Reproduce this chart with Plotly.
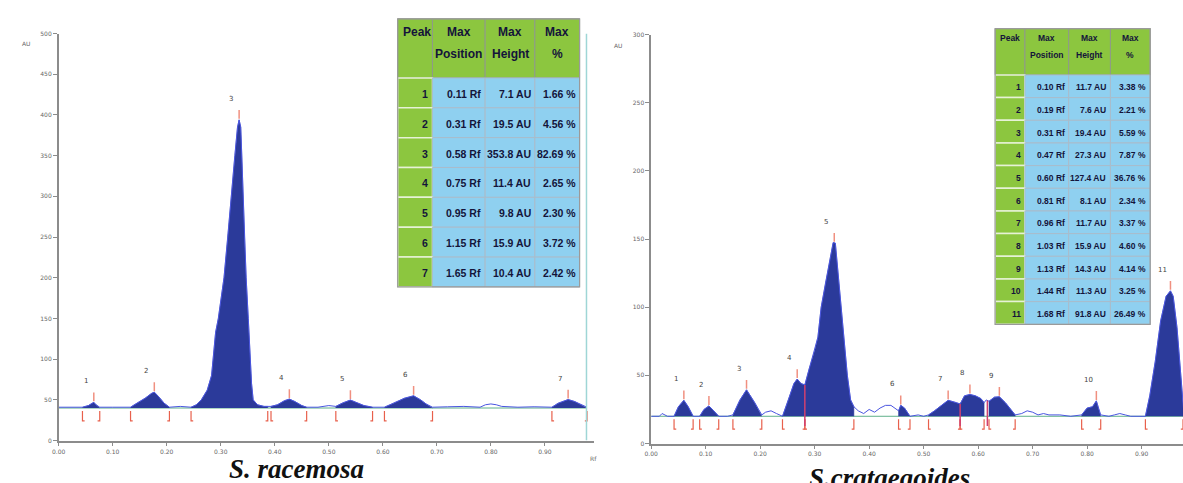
import numpy as np
import plotly.graph_objects as go

# ---------------- data: S. racemosa ----------------
L_x = [0.00, 0.02, 0.044, 0.055, 0.062, 0.065, 0.069, 0.076, 0.10, 0.12, 0.133, 0.145, 0.16, 0.172,
       0.177, 0.185, 0.195, 0.205, 0.225, 0.245, 0.255, 0.264, 0.275, 0.283, 0.2905, 0.2955, 0.306,
       0.313, 0.319, 0.326, 0.331, 0.334, 0.337, 0.339, 0.341, 0.344, 0.347, 0.351, 0.354, 0.357,
       0.360, 0.368, 0.38, 0.387, 0.393,
       0.405, 0.418, 0.427, 0.437, 0.45, 0.459, 0.48, 0.50, 0.513, 0.525, 0.54, 0.55, 0.565, 0.581,
       0.603, 0.62, 0.64, 0.657, 0.67, 0.68, 0.692, 0.72, 0.75, 0.78, 0.79, 0.80, 0.81, 0.82, 0.85,
       0.88, 0.913, 0.925, 0.943, 0.955, 0.968, 0.978]
L_y = [41, 41, 41, 43, 46, 47, 44, 41, 41, 41.5, 41, 46, 52, 58,
       59.5, 54, 46, 41, 42, 41, 44, 50, 62, 80, 133, 150, 200,
       250, 300, 350, 385, 394, 385, 350, 300, 250, 200, 150, 100, 70,
       50, 44, 42, 42, 42,
       44, 49, 51, 48, 43, 41, 41, 43, 42, 46, 49.8, 47, 43, 41,
       41, 46, 52, 55, 50, 45, 41, 41.5, 42, 41, 44, 45, 44, 42, 41,
       41.5, 41, 46, 50.4, 48, 44, 41]
L_base = 40
L_start = [0.044, 0.133, 0.245, 0.393, 0.513, 0.603, 0.913]
L_end = [0.076, 0.205, 0.387, 0.459, 0.581, 0.692, 0.978]
L_peak_x = [0.065, 0.177, 0.334, 0.427, 0.540, 0.657, 0.943]
L_peak = [1, 2, 3, 4, 5, 6, 7]
L_pos = [0.11, 0.31, 0.58, 0.75, 0.95, 1.15, 1.65]
L_hgt = [7.1, 19.5, 353.8, 11.4, 9.8, 15.9, 10.4]
L_pct = [1.66, 4.56, 82.69, 2.65, 2.30, 3.72, 2.42]

# ---------------- data: S. crataegoides ----------------
R_x = [0.00, 0.015, 0.02, 0.025, 0.03, 0.042, 0.05, 0.06, 0.068, 0.077, 0.083, 0.089, 0.097, 0.106,
       0.115, 0.124, 0.14, 0.15, 0.163, 0.175, 0.19, 0.203, 0.21, 0.22, 0.23, 0.241, 0.25, 0.262,
       0.268, 0.275, 0.282, 0.29, 0.30, 0.306, 0.312, 0.32, 0.328, 0.334, 0.338, 0.343, 0.349,
       0.355, 0.360, 0.366, 0.372,
       0.38, 0.39, 0.40, 0.41, 0.42, 0.43, 0.44, 0.45, 0.454, 0.458, 0.465, 0.475, 0.49, 0.50,
       0.509, 0.52, 0.535, 0.545, 0.56, 0.567, 0.575, 0.585, 0.595, 0.605, 0.611, 0.615, 0.620,
       0.63, 0.639, 0.65, 0.66, 0.668, 0.68, 0.69, 0.70, 0.71, 0.72, 0.73, 0.75, 0.77, 0.79, 0.80,
       0.81, 0.817, 0.825, 0.84, 0.85, 0.86, 0.87, 0.88, 0.907, 0.915, 0.925, 0.935, 0.945, 0.953,
       0.958, 0.965, 0.972, 0.978]
R_y = [20, 20, 22, 21, 20, 20, 27, 31.7, 27, 20, 20, 20, 25, 27.6,
       24, 20, 20, 21, 32, 39.4, 30, 21, 23, 24, 22, 20, 30, 44,
       47.3, 44, 43, 55, 68, 78, 100, 118, 135, 147.4, 147, 125, 100,
       70, 50, 32, 27,
       24, 22, 25, 23, 26, 28, 28, 25, 24, 28, 26, 20, 21, 20,
       21, 24, 29, 31.7, 30, 29, 35, 36, 35, 33, 30, 32, 31,
       34, 34.3, 30, 25, 21, 22, 24, 23, 21, 22, 21, 21, 20, 21, 26,
       27, 31.3, 21, 20, 21, 22, 21, 20, 20, 35, 60, 90, 108, 112,
       108, 85, 50, 20]
R_base = 20
R_start = [0.042, 0.089, 0.150, 0.241, 0.282, 0.454, 0.509, 0.567, 0.620, 0.790, 0.907]
R_end = [0.077, 0.124, 0.203, 0.282, 0.372, 0.475, 0.567, 0.611, 0.668, 0.825, 0.976]
R_peak_x = [0.060, 0.106, 0.175, 0.268, 0.336, 0.458, 0.545, 0.585, 0.639, 0.817, 0.953]
R_peak = [1, 2, 3, 4, 5, 6, 7, 8, 9, 10, 11]
R_pos = [0.10, 0.19, 0.31, 0.47, 0.60, 0.81, 0.96, 1.03, 1.13, 1.44, 1.68]
R_hgt = [11.7, 7.6, 19.4, 27.3, 127.4, 8.1, 11.7, 15.9, 14.3, 11.3, 91.8]
R_pct = [3.38, 2.21, 5.59, 7.87, 36.76, 2.34, 3.37, 4.60, 4.14, 3.25, 26.49]

x_ticks = [0.0, 0.1, 0.2, 0.3, 0.4, 0.5, 0.6, 0.7, 0.8, 0.9]
L_yticks = [0, 50, 100, 150, 200, 250, 300, 350, 400, 450, 500]
R_yticks = [0, 50, 100, 150, 200, 250, 300]

W, H = 1183, 483
FILL = "#2B3A9A"
LINE = "#4a55e0"
RED = "#e8604c"
PINK = "#f09080"
GREEN_T = "#8CC63F"
BLUE_T = "#8FD0F0"
TXT = "#14143a"
TFONT = "Liberation Sans, Arial, sans-serif"

fig = go.Figure()


def px_x(v):
    return v / W


def px_y(v):
    return 1 - v / H


def panel(xs, ys, base, starts, ends, pk_x, pk_n, xa, ya, upx, valley):
    xs = np.array(xs, float)
    ys = np.array(ys, float)
    fig.add_trace(go.Scatter(x=[0, xs.max()], y=[base, base], mode="lines",
                             line=dict(color="#5fb08a", width=1), xaxis=xa, yaxis=ya,
                             hoverinfo="skip", showlegend=False))
    for a, b in zip(starts, ends):
        m = (xs > a) & (xs < b)
        px = np.concatenate([[a], xs[m], [b]])
        py = np.concatenate([[np.interp(a, xs, ys)], ys[m], [np.interp(b, xs, ys)]])
        poly_x = np.concatenate([[a], px, [b]])
        poly_y = np.concatenate([[base], py, [base]])
        fig.add_trace(go.Scatter(x=poly_x, y=poly_y, mode="lines", fill="toself",
                                 fillcolor=FILL, line=dict(color=FILL, width=0.5),
                                 xaxis=xa, yaxis=ya, hoverinfo="skip", showlegend=False))
    fig.add_trace(go.Scatter(x=xs, y=ys, mode="lines", line=dict(color=LINE, width=1),
                             xaxis=xa, yaxis=ya, hoverinfo="skip", showlegend=False))
    bx, by = [], []
    for a in starts:
        bx += [a, a, a + 0.004, None]
        by += [base - 3 * upx, base - 13 * upx, base - 13 * upx, None]
    for b in ends:
        bx += [b, b, b - 0.004, None]
        by += [base - 3 * upx, base - 13 * upx, base - 13 * upx, None]
    fig.add_trace(go.Scatter(x=bx, y=by, mode="lines", line=dict(color=RED, width=1.2),
                             xaxis=xa, yaxis=ya, hoverinfo="skip", showlegend=False))
    vx, vy = [], []
    for v in valley:
        vx += [v, v, None]
        vy += [base - 10 * upx, np.interp(v, xs, ys), None]
    if vx:
        fig.add_trace(go.Scatter(x=vx, y=vy, mode="lines", line=dict(color="#d04070", width=1.5),
                                 xaxis=xa, yaxis=ya, hoverinfo="skip", showlegend=False))
    tx, ty = [], []
    for p, n in zip(pk_x, pk_n):
        top = float(np.interp(p, xs, ys))
        tx += [p, p, None]
        ty += [top + 1 * upx, top + 10 * upx, None]
        fig.add_annotation(x=p, y=top, xref=xa, yref=ya, text=str(n), showarrow=False,
                           yshift=21, xshift=-8,
                           font=dict(size=7, color="#444", family="DejaVu Sans"))
    fig.add_trace(go.Scatter(x=tx, y=ty, mode="lines", line=dict(color=PINK, width=1.5),
                             xaxis=xa, yaxis=ya, hoverinfo="skip", showlegend=False))


L_upx = 500 / 413.0
R_upx = 300 / 415.0
panel(L_x, L_y, L_base, L_start, L_end, L_peak_x, L_peak, "x", "y", L_upx, [])
panel(R_x, R_y, R_base, R_start, R_end, R_peak_x, R_peak, "x2", "y2", R_upx, [0.282, 0.567, 0.617])

fig.add_shape(type="line", x0=0.977, x1=0.977, y0=0, y1=500, xref="x", yref="y",
              line=dict(color="#9fd6d6", width=1.5))


def rect(x0, y0, x1, y1, fill, line_color, lw=1):
    fig.add_shape(type="rect", xref="paper", yref="paper",
                  x0=px_x(x0), x1=px_x(x1), y0=px_y(y1), y1=px_y(y0),
                  fillcolor=fill, line=dict(color=line_color, width=lw), layer="above")


def text(x, y, s, size, xanchor="center", yanchor="middle"):
    fig.add_annotation(x=px_x(x), y=px_y(y), xref="paper", yref="paper", text=s,
                       showarrow=False, xanchor=xanchor, yanchor=yanchor,
                       font=dict(size=size, color=TXT, family=TFONT))


def table(pk, pos, hgt, pct, xe, ytop, hh, rh, fh, fc, l1, l2):
    rows = len(pk)
    for c in range(4):
        rect(xe[c], ytop, xe[c + 1], ytop + hh, GREEN_T, "#8f9a88")
    text(xe[0] + 3, ytop + l1, "<b>Peak</b>", fh, "left")
    heads = [("Max", "Position"), ("Max", "Height"), ("Max", "%")]
    for c, (a, b) in enumerate(heads, start=1):
        cx = (xe[c] + xe[c + 1]) / 2
        text(cx, ytop + l1, "<b>%s</b>" % a, fh)
        text(cx, ytop + l2, "<b>%s</b>" % b, fh)
    cols = [["%d" % p for p in pk],
            ["%.2f Rf" % v for v in pos],
            ["%.1f AU" % v for v in hgt],
            ["%.2f %%" % v for v in pct]]
    for r in range(rows):
        y0 = ytop + hh + r * rh
        rect(xe[0], y0, xe[1], y0 + rh, GREEN_T, "#e6f2d6", 1.5)
        for c in range(1, 4):
            rect(xe[c], y0, xe[c + 1], y0 + rh, BLUE_T, "#a9bccb")
        for c in range(4):
            text(xe[c + 1] - 2, y0 + rh / 2 + 1, "<b>%s</b>" % cols[c][r], fc, "right")
    rect(xe[0], ytop, xe[4], ytop + hh + rows * rh, "rgba(0,0,0,0)", "#9a9a9a", 1.2)


table(L_peak, L_pos, L_hgt, L_pct, [393, 428, 481, 531, 576], 15, 60, 30.3, 12, 10.5, 13, 36)
table(R_peak, R_pos, R_hgt, R_pct, [994, 1024, 1068, 1110, 1150], 25, 47, 23, 8.5, 8.5, 10, 27)

axis_common = dict(showline=True, linecolor="#8c8c8c", linewidth=1.5, ticks="outside",
                   ticklen=4, tickcolor="#8c8c8c", tickfont=dict(size=6, color="#666", family="DejaVu Sans"),
                   showgrid=False, zeroline=False)

fig.update_layout(
    width=W, height=H, margin=dict(l=0, r=0, t=0, b=0),
    paper_bgcolor="white", plot_bgcolor="white", showlegend=False,
    xaxis=dict(domain=[52 / W, 590 / W], range=[0, 0.99], anchor="y", tickvals=x_ticks,
               tickformat=".2f", **axis_common),
    yaxis=dict(domain=[1 - 443 / H, 1 - 30 / H], range=[0, 500], anchor="x", tickvals=L_yticks,
               **axis_common),
    xaxis2=dict(domain=[648 / W, 1.0], range=[0, 0.976], anchor="y2", tickvals=x_ticks,
                tickformat=".2f", **axis_common),
    yaxis2=dict(domain=[1 - 446 / H, 1 - 31 / H], range=[0, 300], anchor="x2", tickvals=R_yticks,
                **axis_common),
)

small = dict(size=6, color="#666", family="DejaVu Sans")
fig.add_annotation(x=20 / W, y=1 - 40 / H, xref="paper", yref="paper", text="AU", showarrow=False,
                   xanchor="center", yanchor="middle", font=small)
fig.add_annotation(x=615 / W, y=1 - 42 / H, xref="paper", yref="paper", text="AU", showarrow=False,
                   xanchor="center", yanchor="middle", font=small)
fig.add_annotation(x=590 / W, y=1 - 461 / H, xref="paper", yref="paper", text="Rf", showarrow=False,
                   xanchor="center", yanchor="middle", font=small)

title_font = dict(size=27, color="#111", family="Liberation Serif, Times New Roman, serif")
fig.add_annotation(x=291 / W, y=1 - 455 / H, xref="paper", yref="paper", xanchor="center", yanchor="top",
                   text="<b><i>S. racemosa</i></b>", showarrow=False, font=title_font)
fig.add_annotation(x=888 / W, y=1 - 464 / H, xref="paper", yref="paper", xanchor="center", yanchor="top",
                   text="<b><i>S.crataegoides</i></b>", showarrow=False, font=title_font)

fig.write_html("out.html", config={"displayModeBar": False},
               post_script="document.body.style.margin='0';document.body.style.overflow='hidden';")
